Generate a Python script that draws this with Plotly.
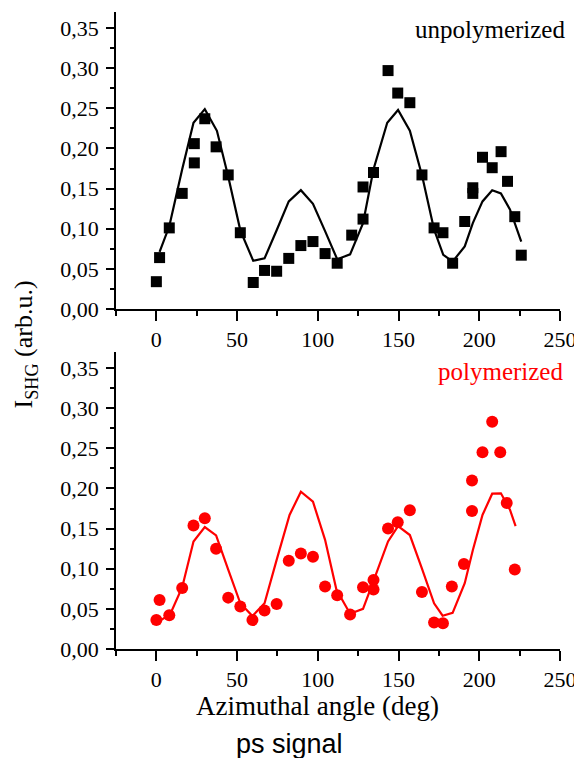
import plotly.graph_objects as go

# ---------------- data ----------------
unpoly_angle = [0, 2, 8, 16, 23.5, 23.5, 30, 37, 44.5, 52, 60, 67, 74.5, 82, 89.5, 97, 104.5, 112, 121, 128,
                128, 134.5, 143.5, 149.5, 157, 164.5, 172, 177.5, 183.5, 191, 196, 196, 202, 208, 213.5, 217.5, 222, 226]
unpoly_shg = [0.034, 0.064, 0.101, 0.144, 0.206, 0.182, 0.237, 0.202, 0.167, 0.095, 0.033, 0.048, 0.047, 0.063,
              0.079, 0.084, 0.069, 0.057, 0.092, 0.112, 0.152, 0.170, 0.297, 0.269, 0.257, 0.167, 0.101, 0.095,
              0.057, 0.109, 0.144, 0.151, 0.189, 0.176, 0.196, 0.159, 0.115, 0.067]

unpoly_fit_angle = [2, 8, 16, 23, 30, 37.5, 44.5, 52, 60, 67, 74.5, 82, 89.5, 97, 104.5, 112, 120, 128, 134.5, 143,
                    149.7, 157, 164.7, 172, 177.7, 183.5, 191, 196, 202, 208, 213.4, 219, 226]
unpoly_fit_shg = [0.071, 0.103, 0.174, 0.232, 0.249, 0.222, 0.165, 0.098, 0.060, 0.063, 0.098, 0.134, 0.148, 0.131,
                  0.097, 0.062, 0.068, 0.107, 0.174, 0.232, 0.248, 0.222, 0.165, 0.099, 0.0675, 0.059, 0.078, 0.107,
                  0.134, 0.148, 0.144, 0.124, 0.084]

poly_angle = [0, 2, 8, 16, 23, 30, 37, 44.5, 52, 59.5, 67, 74.5, 82, 89.5, 97, 104.5, 112, 120, 128, 134.5,
              134.5, 143.5, 149.5, 157, 164.5, 172, 177.5, 183, 190.5, 195.5, 195.5, 202, 208, 213, 217, 222]
poly_shg = [0.036, 0.061, 0.042, 0.076, 0.154, 0.163, 0.125, 0.064, 0.053, 0.036, 0.048, 0.056, 0.110, 0.119,
            0.115, 0.078, 0.067, 0.043, 0.077, 0.086, 0.074, 0.150, 0.158, 0.173, 0.071, 0.033, 0.032, 0.078,
            0.106, 0.172, 0.210, 0.245, 0.283, 0.245, 0.182, 0.099]

poly_fit_angle = [2, 8.5, 16, 23, 30, 37, 44.5, 52, 59.5, 67, 74.5, 82.5, 89.5, 97, 104.5, 111.5, 120, 128, 134.5,
                  143.5, 149.7, 157, 164.5, 172, 177.3, 183.5, 191, 196, 202, 208, 213.4, 219, 222.5]
poly_fit_shg = [0.035, 0.043, 0.077, 0.134, 0.152, 0.1415, 0.099, 0.057, 0.041, 0.057, 0.111, 0.167, 0.196, 0.1835,
                0.136, 0.074, 0.044, 0.050, 0.085, 0.134, 0.153, 0.142, 0.100, 0.057, 0.0415, 0.045, 0.082, 0.123,
                0.167, 0.1935, 0.194, 0.1735, 0.153]

x_tickvals = [0, 50, 100, 150, 200, 250]
y_tickvals = [0.00, 0.05, 0.10, 0.15, 0.20, 0.25, 0.30, 0.35]
y_ticktext = ["0,00", "0,05", "0,10", "0,15", "0,20", "0,25", "0,30", "0,35"]

# ---------------- figure ----------------
SERIF = "Liberation Serif, Times New Roman, serif"
SANS = "Liberation Sans, Arial, sans-serif"
fig = go.Figure()

fig.add_trace(go.Scatter(x=unpoly_fit_angle, y=unpoly_fit_shg, mode="lines",
                         line=dict(color="black", width=2.2), xaxis="x", yaxis="y", showlegend=False))
fig.add_trace(go.Scatter(x=unpoly_angle, y=unpoly_shg, mode="markers",
                         marker=dict(symbol="square", size=11, color="black"),
                         xaxis="x", yaxis="y", showlegend=False))
fig.add_trace(go.Scatter(x=poly_fit_angle, y=poly_fit_shg, mode="lines",
                         line=dict(color="#ff0000", width=2.2), xaxis="x2", yaxis="y2", showlegend=False))
fig.add_trace(go.Scatter(x=poly_angle, y=poly_shg, mode="markers",
                         marker=dict(symbol="circle", size=12, color="#ff0000"),
                         xaxis="x2", yaxis="y2", showlegend=False))

xaxis_common = dict(range=[-25, 250], tickvals=x_tickvals, ticks="outside", ticklen=10, tickwidth=1.5,
                    tickcolor="black", showline=True, linecolor="black", linewidth=1.5, showgrid=False,
                    zeroline=False, tickfont=dict(family=SERIF, size=22, color="black"),
                    minor=dict(dtick=25, tick0=0, ticks="outside", ticklen=5, tickwidth=1.5, tickcolor="black"))
yaxis_common = dict(range=[0, 0.37], tickvals=y_tickvals, ticktext=y_ticktext, ticks="outside", ticklen=8,
                    tickwidth=1.5, tickcolor="black", showline=True, linecolor="black", linewidth=1.5,
                    showgrid=False, zeroline=False, ticklabelstandoff=3,
                    tickfont=dict(family=SERIF, size=22, color="black"),
                    minor=dict(dtick=0.025, tick0=0, ticks="outside", ticklen=4, tickwidth=1.5, tickcolor="black"))

# the page body adds an 8px offset, so the figure is 8px smaller than the window
fig.update_layout(
    width=574, height=750,
    margin=dict(l=108, r=22, t=4, b=109),
    paper_bgcolor="white", plot_bgcolor="white",
    xaxis=dict(**xaxis_common, anchor="y", domain=[0, 1]),
    yaxis=dict(**yaxis_common, anchor="x", domain=[0.5338, 1]),
    xaxis2=dict(**xaxis_common, anchor="y2", domain=[0, 1]),
    yaxis2=dict(**yaxis_common, anchor="x2", domain=[0, 0.4662]),
    annotations=[
        dict(text="unpolymerized", xref="paper", yref="paper", x=1.016, y=0.972, xanchor="right",
             yanchor="middle", showarrow=False, font=dict(family=SERIF, size=25, color="black")),
        dict(text="polymerized", xref="paper", yref="paper", x=1.011, y=0.436, xanchor="right",
             yanchor="middle", showarrow=False, font=dict(family=SERIF, size=25, color="#ff0000")),
        dict(text="I<sub>SHG</sub> (arb.u.)", xref="paper", yref="paper", x=-0.205, y=0.478,
             xanchor="center", yanchor="middle", textangle=-90, showarrow=False,
             font=dict(family=SERIF, size=26, color="black")),
        dict(text="Azimuthal angle (deg)", xref="paper", yref="paper", x=0.453, y=-0.0895,
             xanchor="center", yanchor="middle", showarrow=False,
             font=dict(family=SERIF, size=27, color="black")),
        dict(text="ps signal", xref="paper", yref="paper", x=0.39, y=-0.149,
             xanchor="center", yanchor="middle", showarrow=False,
             font=dict(family=SANS, size=27, color="black")),
    ],
)

fig.write_html("out.html")
